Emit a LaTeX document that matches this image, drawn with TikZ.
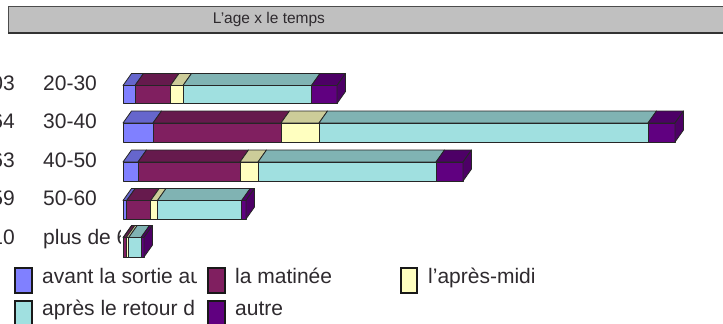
\documentclass[tikz,border=0pt]{standalone}
\usepackage{fontspec}
\setmainfont{Liberation Sans}
\definecolor{txt}{HTML}{2E2A2E}
\definecolor{titlegray}{HTML}{C0C0C0}
\definecolor{blueF}{HTML}{8080FF}
\definecolor{blueT}{HTML}{6666CC}
\definecolor{maroonF}{HTML}{801F60}
\definecolor{maroonT}{HTML}{661A4D}
\definecolor{yellowF}{HTML}{FFFFC0}
\definecolor{yellowT}{HTML}{CCCC99}
\definecolor{cyanF}{HTML}{A0E0E0}
\definecolor{cyanT}{HTML}{80B3B3}
\definecolor{purpleF}{HTML}{600080}
\definecolor{purpleT}{HTML}{4D0066}
\newcommand\dX{8.5}
\newcommand\dY{12}
% segment: x0, x1, ytop, ybottom, front colour, top colour
\newcommand\mkseg[6]{%
  \draw[edge, fill=#6] (#1,#3) -- (#1+\dX,#3-\dY) -- (#2+\dX,#3-\dY) -- (#2,#3) -- cycle;
  \draw[edge, fill=#5] (#1,#3) rectangle (#2,#4);
}
% side face: x1, ytop, ybottom, colour
\newcommand\mkside[4]{%
  \draw[edge, fill=#4] (#1,#2) -- (#1+\dX,#2-\dY) -- (#1+\dX,#3-\dY) -- (#1,#3) -- cycle;
}
% whole bar: ytop, ybottom, six boundaries
\newcommand\chartrow[8]{%
  \mkseg{#3}{#4}{#1}{#2}{blueF}{blueT}
  \mkseg{#4}{#5}{#1}{#2}{maroonF}{maroonT}
  \mkseg{#5}{#6}{#1}{#2}{yellowF}{yellowT}
  \mkseg{#6}{#7}{#1}{#2}{cyanF}{cyanT}
  \mkseg{#7}{#8}{#1}{#2}{purpleF}{purpleT}
  \mkside{#8}{#1}{#2}{purpleT}
}
\begin{document}
\begin{tikzpicture}[x=1pt,y=-1pt,
  edge/.style={draw=black!85, line width=0.8pt, line join=round},
  lab/.style={font=\fontsize{21}{24}\selectfont, text=txt, inner sep=0pt},
  key/.style={draw=black!90, line width=1.2pt}]
\useasboundingbox (0,0) rectangle (723,324);
\clip (0,0) rectangle (723,324);
\fill[white] (0,0) rectangle (723,324);

% title bar
\draw[fill=titlegray, draw=black!70, line width=1pt] (8,6) rectangle (740,33);
\draw[black!80, line width=1.6pt] (8,33) -- (740,33);
\node[font=\fontsize{15.5}{18}\selectfont, text=txt, inner sep=0pt] (title) at (269,19.5) {L'age x le temps};

% category labels (clipped at the plot area)
\begin{scope}
\clip (0,40) rectangle (120.5,262);
\node[lab, anchor=base east] (n1) at (15,90) {03};
\node[lab, anchor=base east] (n2) at (15,128.5) {64};
\node[lab, anchor=base east] (n3) at (15,167) {63};
\node[lab, anchor=base east] (n4) at (15,205.5) {59};
\node[lab, anchor=base east] (n5) at (15,244) {10};
\node[lab, anchor=base west] (c1) at (43,90) {20-30};
\node[lab, anchor=base west] (c2) at (43,128.5) {30-40};
\node[lab, anchor=base west] (c3) at (43,167) {40-50};
\node[lab, anchor=base west] (c4) at (43,205.5) {50-60};
\node[lab, anchor=base west] (c5) at (43,244) {plus de 60};
\end{scope}

% bars
\chartrow{85.5}{103.5}{123}{135}{170.5}{183}{311.5}{337}
\chartrow{123}{142}{123}{153}{281}{319}{648}{675}
\chartrow{162}{181}{123}{138}{240}{258}{436}{463}
\chartrow{200.5}{219}{123}{126.7}{150.7}{157.5}{241.7}{246}
\chartrow{237.5}{257}{123}{123.4}{126.3}{128.7}{141}{144}

% legend keys
\draw[key, fill=blueF] (15,268) rectangle (32,293);
\draw[key, fill=maroonF] (208,268) rectangle (225,293);
\draw[key, fill=yellowF] (401,268) rectangle (417,293);
\draw[key, fill=cyanF] (15,301) rectangle (32,326);
\draw[key, fill=purpleF] (208,301) rectangle (225,326);

% legend texts
\begin{scope}
\clip (0,260) rectangle (196.5,324);
\node[lab, anchor=base west] (l1) at (42,283) {avant la sortie au};
\node[lab, anchor=base west] (l4) at (42,315) {après le retour d};
\end{scope}
\node[lab, anchor=base west] (l2) at (235,283) {la matinée};
\node[lab, anchor=base west] (l3) at (428,283) {l'après-midi};
\node[lab, anchor=base west] (l5) at (235,315) {autre};
\end{tikzpicture}
\end{document}
